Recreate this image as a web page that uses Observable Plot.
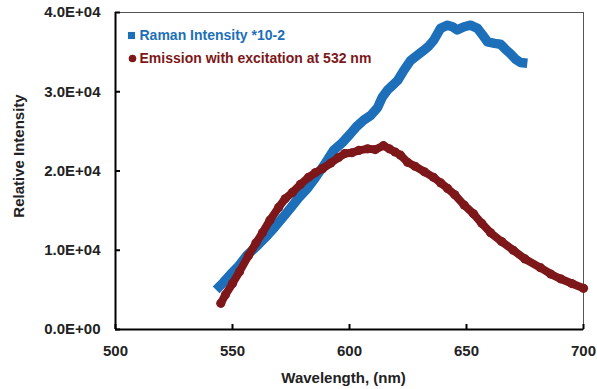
<!DOCTYPE html>
<html>
<head>
<meta charset="utf-8">
<script src="https://cdn.jsdelivr.net/npm/d3@7"></script>
<script src="https://cdn.jsdelivr.net/npm/@observablehq/plot@0.6"></script>
<style>
  html, body { margin: 0; padding: 0; background: #fff; }
  #chart svg { display: block; }
</style>
</head>
<body>
<div id="chart"></div>
<script>
// Raman Intensity *10-2 (blue)
const ramanWavelength = [543, 546, 549, 552.6, 556, 561, 565, 568, 571.4, 575, 578.2, 582, 585.5, 589.7, 593.2, 597, 600.4, 603, 606, 609, 612, 614, 616.2, 618, 620.5, 623, 626, 629, 631.6, 634, 636, 638.9, 641.9, 644, 646, 649, 651.7, 654.7, 657, 659, 662, 664.5, 666.5, 668.8, 671, 673, 676];
const ramanIntensity = [5000, 5900, 6900, 8000, 9300, 10700, 11900, 12900, 14100, 15400, 16600, 17800, 19200, 21000, 22600, 23600, 24700, 25600, 26400, 27000, 28000, 29300, 30200, 30700, 31400, 32600, 33900, 34600, 35200, 35800, 36500, 38000, 38400, 38200, 37800, 38200, 38400, 38000, 37100, 36300, 36100, 36000, 35400, 34800, 34100, 33700, 33600];

// Emission with excitation at 532 nm (dark red)
const emissionWavelength = [545, 547, 550, 553, 556.8, 560, 562.8, 566, 569.7, 572.5, 575.6, 579, 582.5, 585.5, 588.5, 592, 595.3, 598, 601, 604, 607.7, 611, 614.5, 617, 619.5, 621.8, 624.8, 628, 632, 635.9, 639, 641.9, 645, 649, 653, 656.5, 660.3, 665, 670, 675, 681.6, 686, 690.2, 695, 700];
const emissionIntensity = [3300, 4400, 5800, 7300, 9300, 10900, 12200, 13800, 15400, 16500, 17300, 18300, 19200, 19800, 20300, 21000, 21700, 22200, 22300, 22600, 22800, 22700, 23200, 22800, 22400, 22000, 21100, 20600, 19900, 19200, 18500, 17800, 17000, 15700, 14600, 13400, 12200, 11100, 10000, 8900, 7800, 7000, 6400, 5800, 5200];

const xTicks = [500, 550, 600, 650, 700];
const yTicks = [0, 10000, 20000, 30000, 40000];
const yTickLabels = ["0.0E+00", "1.0E+04", "2.0E+04", "3.0E+04", "4.0E+04"];
const seriesNames = ["Raman Intensity *10-2", "Emission with excitation at 532 nm"];
const xLabel = "Wavelength, (nm)";
const yLabel = "Relative Intensity";

const blue = "#1c6fb8";
const red = "#7d1719";

const raman = ramanWavelength.map((x, i) => ({x, y: ramanIntensity[i]}));
const emission = emissionWavelength.map((x, i) => ({x, y: emissionIntensity[i]}));

const font = "Liberation Sans, Arial, sans-serif";

const chart = Plot.plot({
  width: 597,
  height: 389,
  marginLeft: 115,
  marginRight: 14,
  marginTop: 12,
  marginBottom: 60,
  style: {fontFamily: font, background: "#fff", overflow: "visible"},
  x: {domain: [xTicks[0], xTicks[xTicks.length - 1]]},
  y: {domain: [yTicks[0], yTicks[yTicks.length - 1]]},
  marks: [
    Plot.frame({stroke: "#555", strokeWidth: 1}),
    // inward ticks
    Plot.axisX(xTicks, {tickSize: -5, text: null, strokeWidth: 2, label: null}),
    Plot.axisY(yTicks, {tickSize: -5, text: null, strokeWidth: 2, label: null}),
    // tick labels
    Plot.axisX(xTicks, {tickSize: 0, tickPadding: 16, fontSize: 15, fontWeight: "bold", fill: "#222", label: null}),
    Plot.axisY(yTicks, {tickSize: 0, tickPadding: 15, fontSize: 15, fontWeight: "bold", fill: "#222", label: null,
      tickFormat: (d) => yTickLabels[yTicks.indexOf(d)]}),
    // axis lines
    Plot.ruleX([xTicks[0]], {stroke: "#000", strokeWidth: 2}),
    Plot.ruleY([yTicks[0]], {stroke: "#000", strokeWidth: 2}),
    // axis titles
    Plot.text([xLabel], {frameAnchor: "bottom", dx: -6, dy: 49, text: d => d, fontSize: 15, fontWeight: "bold", fill: "#222", textAnchor: "middle", lineAnchor: "middle"}),
    Plot.text([yLabel], {frameAnchor: "left", dx: -96, dy: -15, rotate: -90, text: d => d, fontSize: 15, fontWeight: "bold", fill: "#222", textAnchor: "middle", lineAnchor: "middle"}),
    // series
    Plot.line(raman, {x: "x", y: "y", stroke: blue, strokeWidth: 9.5, strokeLinejoin: "round", strokeLinecap: "butt"}),
    Plot.line(emission, {x: "x", y: "y", stroke: red, strokeWidth: 8, strokeLinejoin: "round", strokeLinecap: "round"}),
    Plot.dot(emission, {x: "x", y: "y", fill: red, r: 4.6, stroke: null}),
    // legend
    Plot.dot([seriesNames[0]], {frameAnchor: "top-left", dx: 16, dy: 23, symbol: "square", r: 4, fill: blue, stroke: null}),
    Plot.text([seriesNames[0]], {frameAnchor: "top-left", dx: 24, dy: 23, text: d => d, textAnchor: "start", lineAnchor: "middle", fontSize: 14, fontWeight: "bold", fill: blue}),
    Plot.dot([seriesNames[1]], {frameAnchor: "top-left", dx: 17, dy: 46, symbol: "circle", r: 3.8, fill: red, stroke: null}),
    Plot.text([seriesNames[1]], {frameAnchor: "top-left", dx: 24, dy: 46, text: d => d, textAnchor: "start", lineAnchor: "middle", fontSize: 14, fontWeight: "bold", fill: red})
  ]
});
document.getElementById("chart").appendChild(chart);
</script>
</body>
</html>
